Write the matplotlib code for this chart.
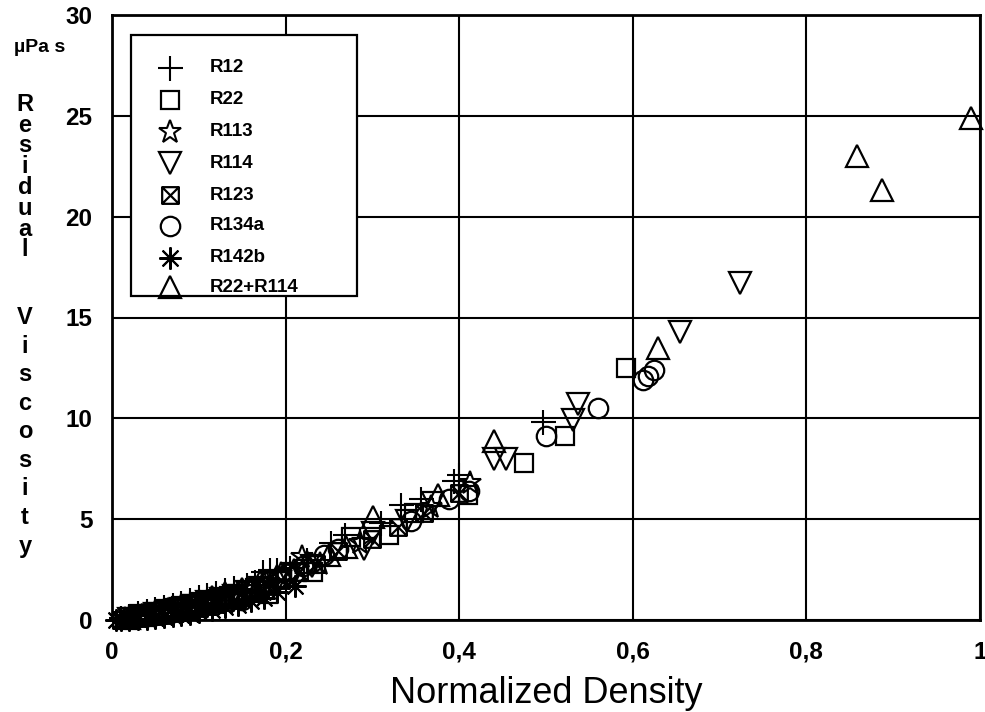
import matplotlib
matplotlib.use("Agg")
import matplotlib.pyplot as plt
from matplotlib.path import Path

plt.rcParams['font.family'] = ['Liberation Sans', 'DejaVu Sans']

# ---- data (normalized density, residual viscosity in µPa s) ----
r12_x = [0.010, 0.020, 0.030, 0.040, 0.050, 0.060, 0.070, 0.080, 0.090, 0.100, 0.110, 0.120, 0.130, 0.140,
         0.155, 0.165, 0.174, 0.182, 0.190, 0.205, 0.225, 0.252, 0.269, 0.310, 0.333, 0.356, 0.394, 0.400, 0.497]
r12_y = [0.10, 0.20, 0.35, 0.45, 0.55, 0.65, 0.75, 0.85, 1.00, 1.15, 1.25, 1.35, 1.50, 1.60,
         1.75, 1.90, 2.40, 2.50, 2.50, 2.60, 3.00, 3.80, 4.20, 4.80, 5.70, 6.00, 6.90, 7.20, 9.80]

r22_x = [0.020, 0.030, 0.040, 0.050, 0.060, 0.070, 0.080, 0.090, 0.100, 0.110, 0.120, 0.135, 0.145, 0.155,
         0.165, 0.180, 0.231, 0.275, 0.319, 0.348, 0.410, 0.475, 0.522, 0.592]
r22_y = [0.15, 0.25, 0.30, 0.40, 0.50, 0.60, 0.70, 0.80, 0.90, 0.95, 1.05, 1.20, 1.30, 1.45,
         1.60, 1.30, 2.40, 4.10, 4.20, 5.30, 6.20, 7.80, 9.10, 12.50]

r113_x = [0.015, 0.025, 0.035, 0.045, 0.055, 0.065, 0.075, 0.085, 0.095, 0.105, 0.120, 0.130, 0.140, 0.150,
          0.160, 0.175, 0.195, 0.219, 0.240, 0.286, 0.367, 0.413]
r113_y = [0.05, 0.10, 0.20, 0.25, 0.30, 0.40, 0.50, 0.60, 0.70, 0.80, 1.00, 1.10, 1.20, 1.30,
          1.50, 1.80, 2.30, 3.10, 2.80, 3.80, 5.60, 6.80]

r114_x = [0.020, 0.035, 0.050, 0.065, 0.080, 0.095, 0.110, 0.125, 0.140, 0.155, 0.170, 0.190, 0.210, 0.230,
          0.290, 0.301, 0.340, 0.370, 0.440, 0.454, 0.531, 0.537, 0.654, 0.723]
r114_y = [0.05, 0.20, 0.30, 0.45, 0.55, 0.70, 0.90, 1.05, 1.20, 1.40, 1.60, 1.90, 2.30, 2.70,
          3.50, 4.30, 4.90, 5.80, 8.00, 8.00, 9.90, 10.70, 14.30, 16.70]

r123_x = [0.010, 0.020, 0.030, 0.040, 0.050, 0.060, 0.070, 0.080, 0.090, 0.100, 0.110, 0.120, 0.130, 0.140,
          0.150, 0.160, 0.170, 0.180, 0.195, 0.215, 0.235, 0.260, 0.300, 0.330, 0.360, 0.400]
r123_y = [0.00, 0.00, 0.10, 0.15, 0.20, 0.25, 0.35, 0.40, 0.50, 0.60, 0.70, 0.80, 0.90, 1.00,
          1.15, 1.35, 1.55, 1.70, 2.00, 2.40, 2.80, 3.40, 4.00, 4.60, 5.30, 6.30]

r134a_x = [0.020, 0.030, 0.040, 0.050, 0.060, 0.070, 0.085, 0.095, 0.105, 0.115, 0.125, 0.135, 0.150, 0.160,
           0.180, 0.202, 0.220, 0.244, 0.260, 0.344, 0.388, 0.411, 0.500, 0.560, 0.612, 0.618, 0.624]
r134a_y = [0.10, 0.15, 0.20, 0.25, 0.35, 0.45, 0.55, 0.70, 0.80, 0.90, 1.00, 1.20, 1.00, 1.50,
           1.90, 2.30, 2.70, 3.20, 3.50, 4.90, 6.00, 6.40, 9.10, 10.50, 11.90, 12.10, 12.40]

r142b_x = [0.005, 0.010, 0.020, 0.030, 0.040, 0.050, 0.060, 0.070, 0.080, 0.090, 0.100, 0.115, 0.130, 0.145,
           0.160, 0.175, 0.190, 0.211]
r142b_y = [0.00, 0.00, 0.00, 0.05, 0.05, 0.10, 0.15, 0.20, 0.25, 0.30, 0.40, 0.50, 0.65, 0.75,
           0.95, 1.10, 1.40, 1.70]

mix_x = [0.020, 0.035, 0.050, 0.065, 0.080, 0.100, 0.115, 0.130, 0.150, 0.170, 0.190, 0.210, 0.225, 0.250,
         0.270, 0.301, 0.375, 0.440, 0.629, 0.858, 0.887, 0.990]
mix_y = [0.10, 0.25, 0.40, 0.55, 0.70, 0.95, 1.15, 1.35, 1.55, 1.90, 2.20, 2.50, 2.90, 3.20,
         3.60, 5.10, 6.20, 8.90, 13.50, 23.00, 21.30, 24.90]

labels = ['R12', 'R22', 'R113', 'R114', 'R123', 'R134a', 'R142b', 'R22+R114']
x_ticks = [0, 0.2, 0.4, 0.6, 0.8, 1.0]
x_tick_labels = ['0', '0,2', '0,4', '0,6', '0,8', '1']
y_ticks = [0, 5, 10, 15, 20, 25, 30]
y_tick_labels = ['0', '5', '10', '15', '20', '25', '30']

# boxed-cross marker for R123
boxx = Path([(-1, -1), (1, -1), (1, 1), (-1, 1), (-1, -1), (-1, -1), (1, 1), (-1, 1), (1, -1)],
            [Path.MOVETO, Path.LINETO, Path.LINETO, Path.LINETO, Path.CLOSEPOLY,
             Path.MOVETO, Path.LINETO, Path.MOVETO, Path.LINETO])

styles = [
    dict(marker='+', ms=18, mew=1.5),
    dict(marker='s', ms=13, mew=1.6),
    dict(marker='*', ms=17, mew=1.5),
    dict(marker='v', ms=16, mew=1.6),
    dict(marker=boxx, ms=12, mew=1.6),
    dict(marker='o', ms=14, mew=1.6),
    dict(marker=(8, 2, 0), ms=16, mew=1.5),
    dict(marker='^', ms=16, mew=1.6),
]
series = [(r12_x, r12_y), (r22_x, r22_y), (r113_x, r113_y), (r114_x, r114_y),
          (r123_x, r123_y), (r134a_x, r134a_y), (r142b_x, r142b_y), (mix_x, mix_y)]

W, H = 985, 712
fig = plt.figure(figsize=(W / 100, H / 100), dpi=100)
ax = fig.add_axes([112 / W, 1 - 620 / H, (980 - 112) / W, (620 - 15) / H])

for (xs, ys), st in zip(series, styles):
    ax.plot(xs, ys, ls='none', color='black', mfc='none', mec='black', clip_on=False,
            zorder=3, **st)

ax.set_xlim(0, 1)
ax.set_ylim(0, 30)
ax.set_xticks(x_ticks)
ax.set_xticklabels(x_tick_labels)
ax.set_yticks(y_ticks)
ax.set_yticklabels(y_tick_labels)
ax.grid(True, color='black', lw=1.5)
ax.set_axisbelow(True)
for s in ax.spines.values():
    s.set_linewidth(2)
ax.tick_params(length=0, labelsize=17.5)
ax.tick_params(axis='x', pad=15)
ax.tick_params(axis='y', pad=14)
for t in ax.get_xticklabels() + ax.get_yticklabels():
    t.set_fontweight('bold')

ax.set_xlabel('Normalized Density', fontsize=26, labelpad=9)

# unit and stacked y label (one text block per word)
fig.text(40 / W, 1 - 47 / H, 'µPa s', fontsize=14, fontweight='bold', ha='center', va='center')
fig.text(25 / W, 1 - 93 / H, '\n'.join('Residual'), fontsize=17, fontweight='bold',
         ha='center', va='top', multialignment='center', linespacing=0.875)
fig.text(25 / W, 1 - 306 / H, '\n'.join('Viscosity'), fontsize=17, fontweight='bold',
         ha='center', va='top', multialignment='center', linespacing=1.31)

# legend box (manual, axes coordinates)
def ax_xy(px, py):
    return (px - 112) / (980 - 112), (620 - py) / (620 - 15)

x0, y0 = ax_xy(131, 296)
x1, y1 = ax_xy(357, 35)
ax.add_patch(plt.Rectangle((x0, y0), x1 - x0, y1 - y0, transform=ax.transAxes,
                           fc='white', ec='black', lw=1.6, zorder=5))
rows = [68, 100, 132, 163, 195, 226, 258, 287]
for lab, st, py in zip(labels, styles, rows):
    mx, my = ax_xy(170, py)
    tx, _ = ax_xy(210, py)
    ax.plot([mx], [my], transform=ax.transAxes, ls='none', color='black', mfc='none',
            mec='black', zorder=6, clip_on=False, **st)
    ax.text(tx, my, lab, transform=ax.transAxes, fontsize=13.5, fontweight='bold',
            ha='left', va='center', zorder=6)

fig.savefig('out.png', dpi=100)
